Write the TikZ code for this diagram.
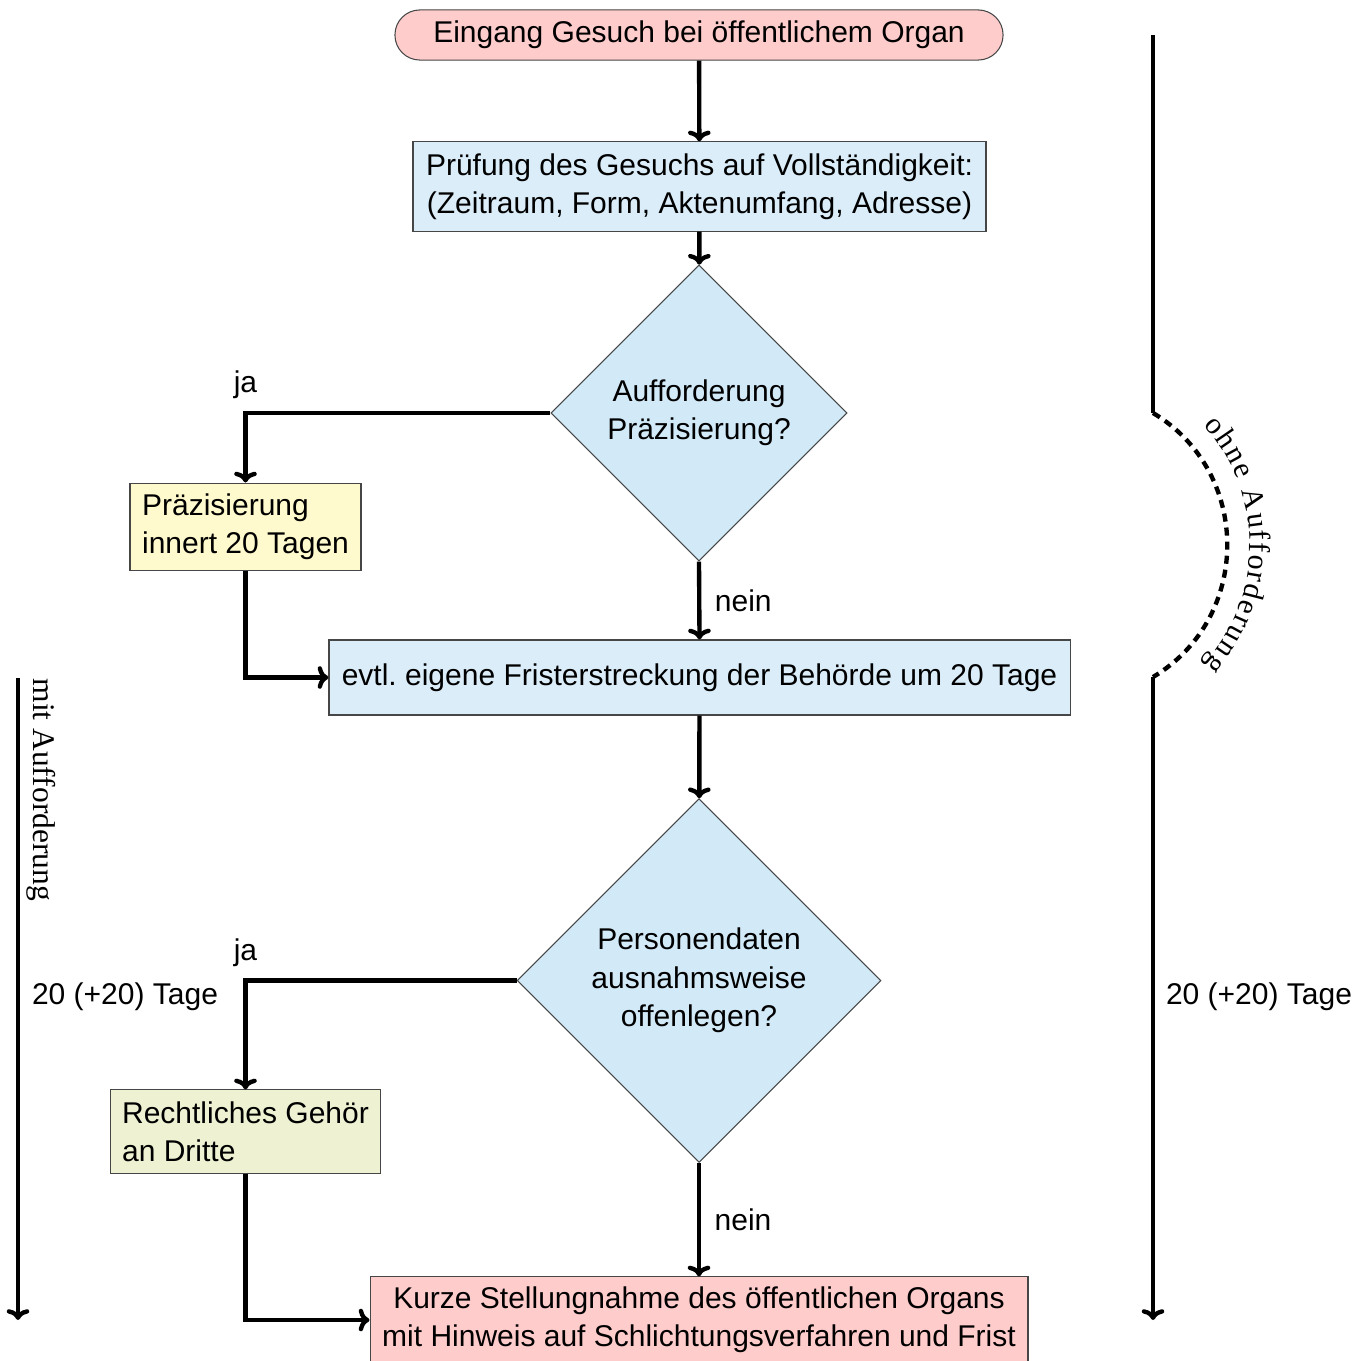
\documentclass[tikz,border=0pt]{standalone}
\usepackage{fontspec}
\setmainfont{Liberation Sans}
\newfontfamily\serifx{Liberation Serif}
\usetikzlibrary{shapes.geometric,decorations.text,arrows.meta}
\definecolor{pinkfill}{RGB}{255,204,204}
\definecolor{bluefill}{RGB}{218,237,249}
\definecolor{diafill}{RGB}{210,233,248}
\definecolor{yellowfill}{RGB}{255,250,205}
\definecolor{olivefill}{RGB}{238,242,211}
\definecolor{edgegray}{RGB}{70,70,70}
\tikzset{
  base/.style={draw=edgegray, line width=0.35pt, font=\fontsize{10}{12.8}\selectfont, inner sep=0pt},
  startbox/.style={base, fill=pinkfill, rounded corners=8.3pt, minimum width=202.7pt, minimum height=16.7pt},
  procbox/.style={base, fill=bluefill, align=center},
  decision/.style={base, fill=diafill, shape=diamond, align=center, aspect=1},
  notebox/.style={base, align=left, inner xsep=4pt},
  endbox/.style={base, fill=pinkfill, align=center},
  arr/.style={line width=1.45pt, -{To[length=3.6pt,width=7.5pt]}},
  lbl/.style={font=\fontsize{10}{12.8}\selectfont, inner sep=0pt},
  rotlbl/.style={font=\serifx\fontsize{10.5}{12}\selectfont, inner sep=0pt}
}
\begin{document}
\begin{tikzpicture}[x=0.33333pt, y=-0.33333pt]
\useasboundingbox (0,0) rectangle (1370,1360);

\node[startbox] (start) at (699,35) {Eingang Gesuch bei öffentlichem Organ};
\node[procbox, minimum width=191pt, minimum height=29.7pt] (pruef) at (699.5,186.5)
  {Prüfung des Gesuchs auf Vollständigkeit:\\(Zeitraum, Form, Aktenumfang, Adresse)};
\node[decision, minimum width=98.7pt, minimum height=98.7pt] (d1) at (699,413)
  {Aufforderung\\Präzisierung?};
\node[notebox, fill=yellowfill, minimum width=77pt, minimum height=29.3pt] (praez) at (245.5,527)
  {Präzisierung\\innert 20 Tagen};
\node[procbox, minimum width=247pt, minimum height=25pt] (frist) at (699.5,677.5)
  {evtl.\ eigene Fristerstreckung der Behörde um 20 Tage};
\node[decision, minimum width=121.3pt, minimum height=121.3pt] (d2) at (699,980.5)
  {Personendaten\\ausnahmsweise\\offenlegen?};
\node[notebox, fill=olivefill, minimum width=90.3pt, minimum height=27.7pt] (gehoer) at (245.5,1131.5)
  {Rechtliches Gehör\\an Dritte};
\node[endbox, minimum width=219.3pt, minimum height=28.7pt] (ende) at (699,1320)
  {Kurze Stellungnahme des öffentlichen Organs\\mit Hinweis auf Schlichtungsverfahren und Frist};

\draw[arr] (start) -- (pruef);
\draw[arr] (pruef) -- (d1);
\draw[arr] (d1.west) -| node[pos=0.5, above=4pt, lbl] (ja1) {ja} (praez.north);
\draw[arr] (d1.south) -- node[right=4.5pt, lbl] (nein1) {nein} (frist.north);
\draw[arr] (praez.south) |- (frist.west);
\draw[arr] (frist) -- (d2);
\draw[arr] (d2.west) -| node[pos=0.5, above=4pt, lbl] (ja2) {ja} (gehoer.north);
\draw[arr] (d2.south) -- node[right=4.5pt, lbl] (nein2) {nein} (ende.north);
\draw[arr] (gehoer.south) |- (ende.west);

% left time line
\coordinate (l1) at (18,678);
\coordinate (l2) at (18,1320);
\draw[arr] (l1) -- (l2);
\node[rotlbl, rotate=-90, anchor=base west] (mitA) at (33,678) {mit Aufforderung};
\node[lbl] (tageL) at (125,997) {20 (+20) Tage};

% right time line
\coordinate (r1) at (1153,35);
\coordinate (r2) at (1153,413);
\coordinate (r3) at (1153,677);
\coordinate (r4) at (1153,1320);
\draw[line width=1.45pt] (r1) -- (r2);
\draw[line width=1.45pt, dash pattern=on 2.7pt off 2pt] (r2) .. controls (1252,472) and (1252,618) .. (r3);
\path[decorate, decoration={text along path, text align=center, raise=7.5pt,
  text format delimiters={|}{|},
  text={|\serifx\fontsize{10}{12}\selectfont|ohne Aufforderung}}]
  (r2) .. controls (1252,472) and (1252,618) .. (r3);
\draw[arr] (r3) -- (r4);
\node[lbl] (tageR) at (1259,997) {20 (+20) Tage};
\end{tikzpicture}
\end{document}
